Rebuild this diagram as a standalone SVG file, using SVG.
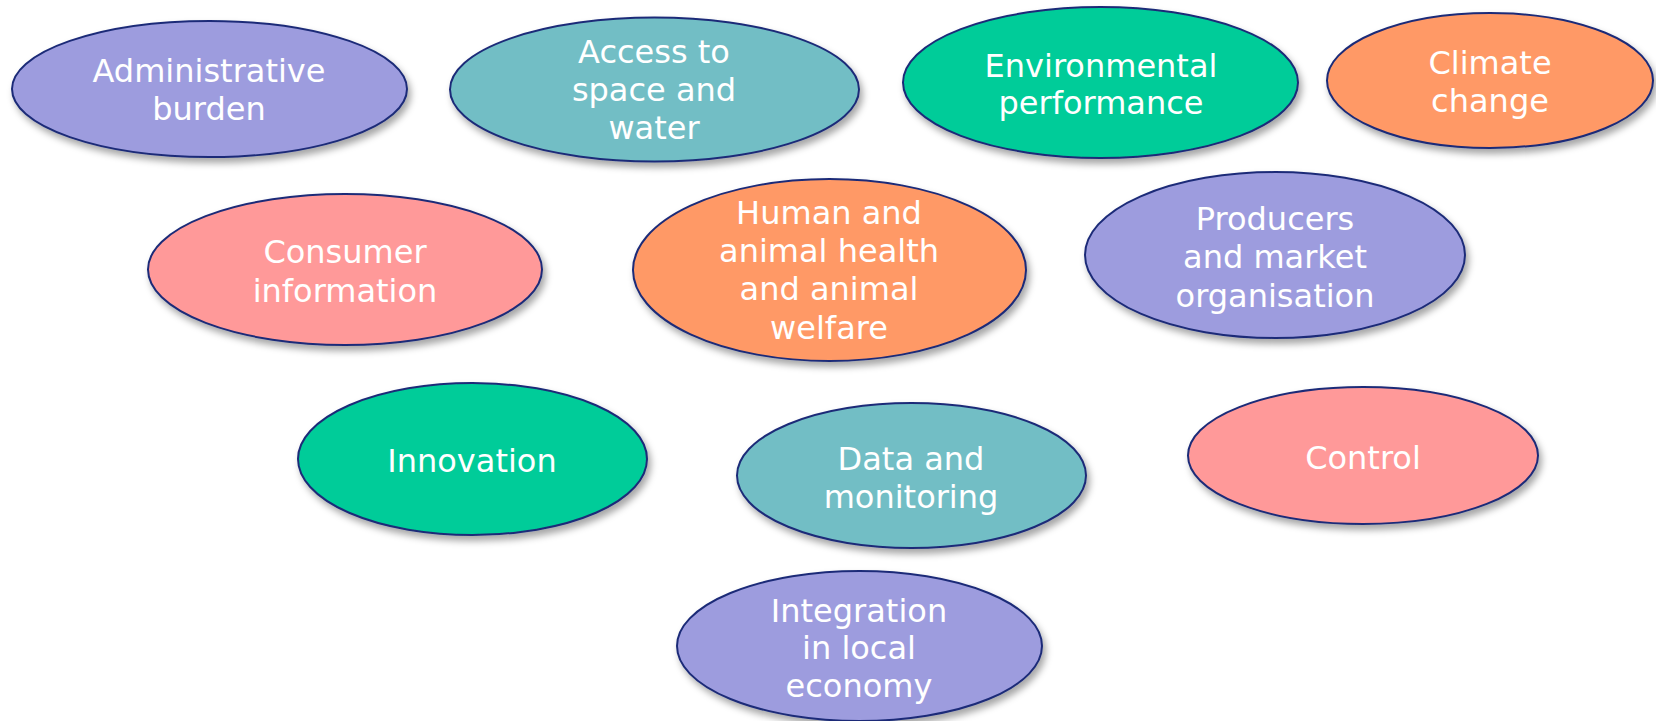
<svg xmlns="http://www.w3.org/2000/svg" width="1656" height="721" viewBox="0 0 1656 721">
<defs>
<filter id="sh" x="-10%" y="-10%" width="125%" height="135%">
<feDropShadow dx="3" dy="5" stdDeviation="3.5" flood-color="#000" flood-opacity="0.35"/>
</filter>
<style>
.n{stroke:#1C2C78;stroke-width:2;filter:url(#sh)}
.p{fill:#9D9CDE}.t{fill:#72BEC5}.g{fill:#00CC99}.o{fill:#FF9966}.k{fill:#FF9999}
text{font-family:"DejaVu Sans","Verdana",sans-serif;font-size:32px;fill:#FFFFFF;text-anchor:middle}
</style>
</defs>
<rect width="1656" height="721" fill="#FFFFFF"/>
<g id="connectors"></g>
<g id="n1"><ellipse class="n p" cx="209.5" cy="89" rx="197.5" ry="68"/><text x="209" y="82">Administrative</text><text x="209" y="120">burden</text></g>
<g id="n2"><ellipse class="n t" cx="654.5" cy="89.5" rx="204.5" ry="72"/><text x="654" y="63">Access to</text><text x="654" y="101">space and</text><text x="654" y="139">water</text></g>
<g id="n3"><ellipse class="n g" cx="1100.5" cy="82.5" rx="197.5" ry="75.5"/><text x="1101" y="77">Environmental</text><text x="1101" y="114">performance</text></g>
<g id="n4"><ellipse class="n o" cx="1490" cy="80.5" rx="163" ry="67.5"/><text x="1490" y="74">Climate</text><text x="1490" y="112">change</text></g>
<g id="n5"><ellipse class="n k" cx="345" cy="269.5" rx="197" ry="75.5"/><text x="345" y="263">Consumer</text><text x="345" y="302">information</text></g>
<g id="n6"><ellipse class="n o" cx="829.5" cy="270" rx="196.5" ry="91"/><text x="829" y="224">Human and</text><text x="829" y="262">animal health</text><text x="829" y="300">and animal</text><text x="829" y="339">welfare</text></g>
<g id="n7"><ellipse class="n p" cx="1275" cy="255" rx="190" ry="83"/><text x="1275" y="230">Producers</text><text x="1275" y="268">and market</text><text x="1275" y="307">organisation</text></g>
<g id="n8"><ellipse class="n g" cx="472.5" cy="459" rx="174.5" ry="76"/><text x="472" y="472">Innovation</text></g>
<g id="n9"><ellipse class="n t" cx="911.5" cy="475.5" rx="174.5" ry="72.5"/><text x="911" y="470">Data and</text><text x="911" y="508">monitoring</text></g>
<g id="n10"><ellipse class="n k" cx="1363" cy="455.5" rx="175" ry="68.5"/><text x="1363" y="469">Control</text></g>
<g id="n11"><ellipse class="n p" cx="859.5" cy="646" rx="182.5" ry="75"/><text x="859" y="622">Integration</text><text x="859" y="659">in local</text><text x="859" y="697">economy</text></g>
</svg>
